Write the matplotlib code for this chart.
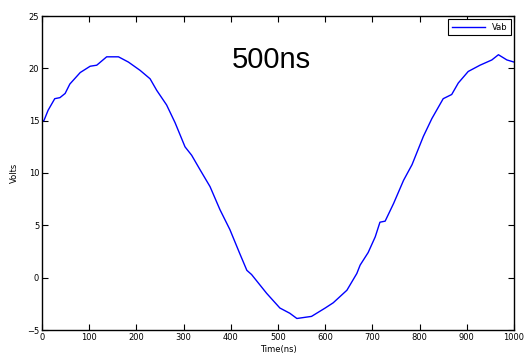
import matplotlib
matplotlib.use("Agg")
import matplotlib.pyplot as plt

# values
time_ns = [0, 4, 13, 27, 38, 49, 59, 81, 102, 116, 137, 162, 183, 208, 229, 243,
           264, 282, 303, 317, 335, 356, 377, 398, 419, 434, 444, 476, 504, 525,
           540, 571, 600, 617, 646, 667, 674, 691, 706, 716, 727, 745, 766, 784,
           808, 826, 850, 868, 882, 903, 928, 953, 967, 985, 1000]
volts = [15.0, 15.0, 16.0, 17.1, 17.2, 17.6, 18.5, 19.6, 20.2, 20.3, 21.1, 21.1,
         20.6, 19.8, 19.0, 17.9, 16.5, 14.8, 12.5, 11.7, 10.3, 8.7, 6.5, 4.6, 2.3,
         0.7, 0.3, -1.5, -2.9, -3.4, -3.9, -3.7, -2.9, -2.4, -1.2, 0.4, 1.2,
         2.4, 3.9, 5.3, 5.4, 7.1, 9.3, 10.8, 13.5, 15.2, 17.1, 17.5, 18.6, 19.7,
         20.3, 20.8, 21.3, 20.8, 20.6]

xticks = list(range(0, 1001, 100))
yticks = list(range(-5, 26, 5))

fig = plt.figure(figsize=(5.25, 3.59), dpi=100)
ax = fig.add_axes([42 / 525, 1 - 330 / 359, 472 / 525, 314 / 359])

ax.plot(time_ns, volts, color="blue", linewidth=1.0, label="Vab")
ax.set_xlim(0, 1000)
ax.set_ylim(-5, 25)
ax.set_xticks(xticks)
ax.set_yticks(yticks)
ax.tick_params(direction="in", top=True, right=True, labelsize=6, length=4, pad=2)
for s in ax.spines.values():
    s.set_linewidth(1.0)

ax.set_xlabel("Time(ns)", fontsize=6, labelpad=2)
ax.set_ylabel("Volts", fontsize=6, labelpad=6)

ax.text(485, 20.8, "500ns", fontsize=21, family="Liberation Sans",
        ha="center", va="center")

leg = ax.legend(loc="upper right", fontsize=6, fancybox=False, framealpha=1,
                edgecolor="black", borderaxespad=0.4, handlelength=4)
leg.get_frame().set_linewidth(0.8)

fig.savefig("out.png", dpi=100)
